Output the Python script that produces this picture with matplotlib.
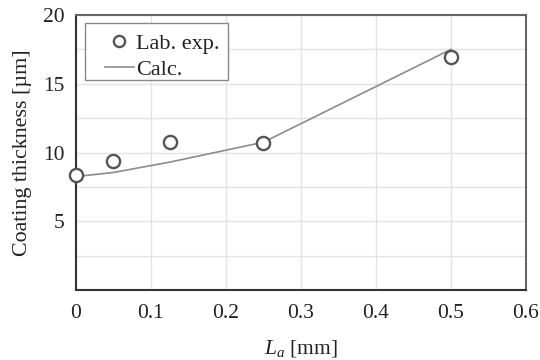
import matplotlib
matplotlib.use("Agg")
import matplotlib.pyplot as plt
from matplotlib.ticker import MultipleLocator, FixedLocator
from matplotlib.patches import Rectangle

plt.rcParams['font.family'] = ['Liberation Serif', 'DejaVu Serif']
plt.rcParams['mathtext.fontset'] = 'custom'
plt.rcParams['mathtext.rm'] = 'Liberation Serif'
plt.rcParams['mathtext.it'] = 'Liberation Serif:italic'

exp_x = [0.0, 0.05, 0.125, 0.25, 0.5]
exp_y = [8.4, 9.35, 10.75, 10.72, 16.97]
calc_x = [0.0, 0.05, 0.125, 0.25, 0.5]
calc_y = [8.25, 8.55, 9.3, 10.75, 17.5]
x_ticks = [0, 0.1, 0.2, 0.3, 0.4, 0.5, 0.6]
x_tick_labels = ['0', '0.1', '0.2', '0.3', '0.4', '0.5', '0.6']
y_ticks = [5, 10, 15, 20]
y_tick_labels = ['5', '10', '15', '20']

fig = plt.figure(figsize=(5.4, 3.6), dpi=100)
ax = fig.add_axes([0.1407, 0.1944, 0.8333, 0.7639])

ax.plot(exp_x, exp_y, ls='none', marker='o', ms=9.5, mfc='white', mec='#555555',
        mew=1.7, label='Lab. exp.', clip_on=False, zorder=4)
ax.plot(calc_x, calc_y, color='#8c8c8c', lw=1.2, label='Calc.', zorder=3)

ax.set_xlim(0, 0.6)
ax.set_ylim(0, 20)
ax.xaxis.set_major_locator(FixedLocator(x_ticks))
ax.set_xticklabels(x_tick_labels)
ax.yaxis.set_major_locator(FixedLocator(y_ticks))
ax.set_yticklabels(y_tick_labels)
ax.yaxis.set_minor_locator(MultipleLocator(2.5))
ax.grid(True, which='both', color='#e3e3e3', lw=1.0, zorder=0)
ax.set_axisbelow(True)
ax.tick_params(which='both', length=0, labelsize=15.5, colors='#222222', pad=10)
ax.tick_params(axis='y', pad=8)

for s in ['left', 'bottom']:
    ax.spines[s].set_color('#333333')
    ax.spines[s].set_linewidth(1.5)
for s in ['top', 'right']:
    ax.spines[s].set_color('#666666')
    ax.spines[s].set_linewidth(1.5)

ax.set_xlabel('$L_a$ [mm]', fontsize=15.5, color='#222222', labelpad=11)
ax.set_ylabel('Coating thickness [µm]', fontsize=15.8, color='#222222', labelpad=8)

# legend frame drawn as a box, legend entries placed inside
ax.add_patch(Rectangle((0.02, 0.764), 0.318, 0.207, transform=ax.transAxes,
                       facecolor='white', edgecolor='#888888', lw=1.0, zorder=5))
leg = ax.legend(loc='upper left', bbox_to_anchor=(0.0644, 0.934), fontsize=16,
                frameon=False, handlelength=1.3, handletextpad=0.1, borderpad=0,
                labelspacing=0.25, borderaxespad=0, markerscale=0.85)
leg.set_zorder(6)
for t in leg.get_texts():
    t.set_color('#222222')

fig.savefig('out.png', dpi=100)
